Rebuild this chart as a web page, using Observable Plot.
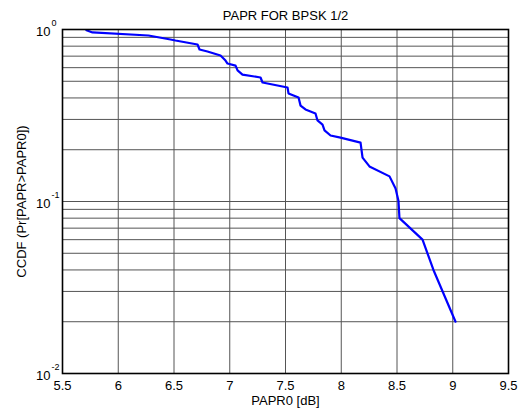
<!DOCTYPE html>
<html>
<head>
<meta charset="utf-8">
<script src="https://cdn.jsdelivr.net/npm/d3@7"></script>
<script src="https://cdn.jsdelivr.net/npm/@observablehq/plot@0.6"></script>
<style>
  body { margin: 0; background: #fff; }
  #chart svg { display: block; }
</style>
</head>
<body>
<div id="chart"></div>
<script>
// PAPR threshold (dB) and complementary CDF of the measured PAPR
const papr0 = [5.715, 5.769, 6.271, 6.469, 6.513, 6.711, 6.729, 6.800, 6.917, 6.962,
  6.980, 7.052, 7.070, 7.114, 7.276, 7.294, 7.518, 7.527, 7.617, 7.635,
  7.679, 7.769, 7.787, 7.832, 7.850, 7.904, 7.993, 8.173, 8.191, 8.253,
  8.433, 8.487, 8.513, 8.522, 8.729, 8.827, 9.025];
const ccdf = [0.99, 0.961, 0.923, 0.875, 0.863, 0.818, 0.765, 0.745, 0.706, 0.660,
  0.634, 0.617, 0.578, 0.547, 0.526, 0.492, 0.460, 0.425, 0.402, 0.361,
  0.343, 0.325, 0.296, 0.280, 0.259, 0.242, 0.235, 0.220, 0.180, 0.160,
  0.140, 0.119, 0.101, 0.080, 0.060, 0.040, 0.020];

const xTicks = [5.5, 6, 6.5, 7, 7.5, 8, 8.5, 9, 9.5];
const xTickLabels = ["5.5", "6", "6.5", "7", "7.5", "8", "8.5", "9", "9.5"];
const yTicks = [1, 0.1, 0.01];
const yExponents = ["0", "-1", "-2"];
const title = "PAPR FOR BPSK 1/2";
const xLabel = "PAPR0 [dB]";
const yLabel = "CCDF (Pr[PAPR>PAPR0])";

// log grid: 1..9 times each decade from 10^-2 up to 10^0
const yGrid = [-2, -1].flatMap(k => d3.range(1, 10).map(m => m * 10 ** k)).concat([1]);

const data = papr0.map((x, i) => ({x, y: ccdf[i]}));
const font = "'Liberation Sans', Arial, Helvetica, sans-serif";

const chart = Plot.plot({
  width: 518,
  height: 411,
  marginLeft: 62,
  marginRight: 10,
  marginTop: 29,
  marginBottom: 38,
  style: {fontFamily: font, fontSize: "13px", color: "#000", background: "#fff", overflow: "visible"},
  x: {domain: [5.5, 9.5], axis: null},
  y: {type: "log", domain: [0.01, 1], axis: null},
  marks: [
    Plot.ruleY(yGrid, {stroke: "#555", strokeWidth: 1}),
    Plot.ruleX(xTicks, {stroke: "#555", strokeWidth: 1}),
    Plot.line(data, {x: "x", y: "y", stroke: "#0000ff", strokeWidth: 2.2}),
    Plot.frame({stroke: "#000", strokeWidth: 1.6}),
    // x tick labels
    Plot.text(xTicks, {x: d => d, frameAnchor: "bottom", dy: 12, lineAnchor: "middle",
      text: (d, i) => xTickLabels[i], fontSize: 13}),
    // y tick labels as 10 with a raised exponent
    Plot.text(yTicks, {y: d => d, frameAnchor: "left", dx: -12, dy: 2, textAnchor: "end",
      lineAnchor: "middle", text: () => "10", fontSize: 13}),
    Plot.text(yTicks, {y: d => d, frameAnchor: "left", dx: -11, dy: -6, textAnchor: "start",
      lineAnchor: "middle", text: (d, i) => yExponents[i], fontSize: 9}),
    // title and axis labels
    Plot.text([title], {frameAnchor: "top", dy: -14, lineAnchor: "middle", text: d => d, fontSize: 13}),
    Plot.text([xLabel], {frameAnchor: "bottom", dy: 27, lineAnchor: "middle", text: d => d, fontSize: 13}),
    Plot.text([yLabel], {frameAnchor: "left", dx: -41, rotate: -90, lineAnchor: "middle",
      textAnchor: "middle", text: d => d, fontSize: 13})
  ]
});

document.getElementById("chart").append(chart);
</script>
</body>
</html>
